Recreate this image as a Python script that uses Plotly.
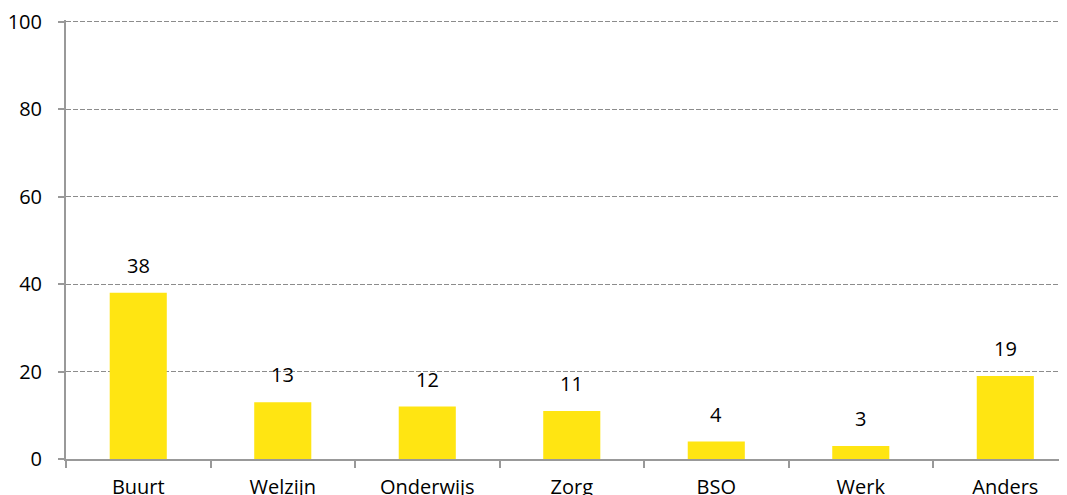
import plotly.graph_objects as go

categories = ["Buurt", "Welzijn", "Onderwijs", "Zorg", "BSO", "Werk", "Anders"]
values = [38, 13, 12, 11, 4, 3, 19]
y_ticks = [0, 20, 40, 60, 80, 100]

font_family = "Open Sans, DejaVu Sans, sans-serif"

fig = go.Figure(go.Bar(
    x=categories, y=values,
    marker=dict(color="#FFE512", line=dict(width=0)),
    width=0.395, hoverinfo="x+y",
))

for c, v in zip(categories, values):
    fig.add_annotation(
        x=c, y=v, text=str(v), showarrow=False,
        yanchor="bottom", yshift=12,
        font=dict(size=20, color="#000000", family=font_family),
    )

fig.update_layout(
    width=1059, height=487,
    margin=dict(l=58, r=0, t=12, b=36, autoexpand=False),
    paper_bgcolor="white", plot_bgcolor="white",
    showlegend=False,
    font=dict(family=font_family, size=20, color="#000000"),
)
fig.update_xaxes(
    type="category", range=[-0.5, 6.427], automargin=False,
    showline=True, linecolor="#999999", linewidth=2,
    ticks="outside", tickson="boundaries", ticklen=7, tickcolor="#999999", tickwidth=2,
    showgrid=False, tickfont=dict(size=20), ticklabelstandoff=9,
    ticklabeloverflow="allow",
)
fig.update_yaxes(
    range=[0, 100.35], tickvals=y_ticks, automargin=False,
    showline=True, linecolor="#999999", linewidth=2,
    ticks="outside", ticklen=6, tickcolor="#999999", tickwidth=2,
    showgrid=True, gridcolor="#8c8c8c", griddash="5px,2px", gridwidth=1,
    zeroline=False, tickfont=dict(size=20), ticklabelstandoff=12,
    ticklabeloverflow="allow",
)
fig.write_html("out.html")
